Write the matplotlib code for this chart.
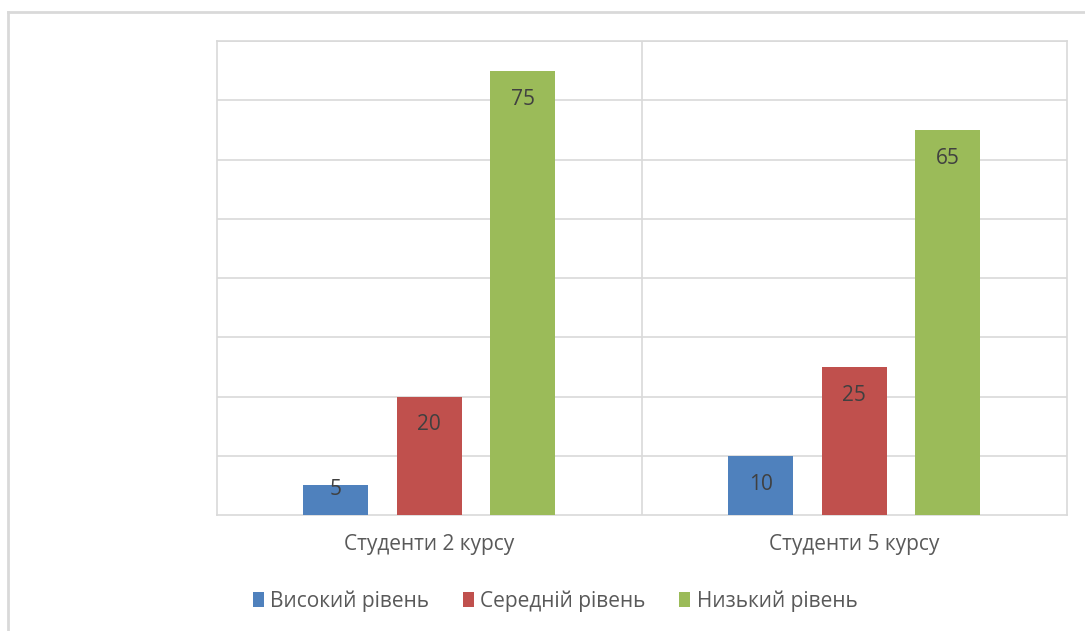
import matplotlib
matplotlib.use("Agg")
import matplotlib.pyplot as plt
from matplotlib.patches import Patch
from matplotlib.lines import Line2D
import numpy as np

plt.rcParams['font.family'] = ['Open Sans', 'DejaVu Sans']

categories = ["Студенти 2 курсу", "Студенти 5 курсу"]
series_names = ["Високий рівень", "Середній рівень", "Низький рівень"]
high = [5, 10]
medium = [20, 25]
low = [75, 65]
series_values = [high, medium, low]
colors = ["#4F81BD", "#C0504D", "#9BBB59"]

fig = plt.figure(figsize=(10.85, 6.31), dpi=100)
ax = fig.add_axes([0.1997, 0.1838, 0.7834, 0.7512])

x = np.arange(len(categories))
width = 0.153
spacing = 0.22
grid_c = "#D9D9D9"

for i, (vals, col) in enumerate(zip(series_values, colors)):
    xs = x + (i - 1) * spacing
    ax.bar(xs, vals, width=width, color=col, zorder=3)
    for xi, v in zip(xs, vals):
        yl = max(v - 4.8, 4.3)
        ax.text(xi, yl, str(v), ha="center", va="center",
                fontsize=15, color="#404040", zorder=4)

ax.set_xlim(-0.5, len(categories) - 0.5)
ax.set_ylim(0, 80)
ax.set_yticks(np.arange(10, 81, 10))
ax.yaxis.grid(True, color=grid_c, linewidth=1.2, zorder=0)
ax.tick_params(axis="y", left=False, labelleft=False)
ax.set_xticks(x)
ax.set_xticklabels(categories, fontsize=15, color="#595959")
ax.tick_params(axis="x", length=0, pad=14)
for xb in np.arange(0.5, len(categories) - 0.5, 1):
    ax.axvline(xb, color=grid_c, linewidth=1.2, zorder=0)
for s in ax.spines.values():
    s.set_color(grid_c)
    s.set_linewidth(1.2)

handles = [Patch(facecolor=c, edgecolor="none") for c in colors]
fig.legend(handles, series_names, loc="center", bbox_to_anchor=(0.5115, 0.0475),
           ncol=3, frameon=False, fontsize=15, labelcolor="#595959",
           handlelength=0.55, handleheight=0.7, handletextpad=0.3,
           columnspacing=1.6)

# outer frame
fig.add_artist(Line2D([8 / 1085, 1.0], [1 - 12 / 631] * 2, color=grid_c,
                      linewidth=2, transform=fig.transFigure))
fig.add_artist(Line2D([8 / 1085] * 2, [0.0, 1 - 12 / 631], color=grid_c,
                      linewidth=2, transform=fig.transFigure))

fig.savefig("out.png", dpi=100, facecolor="white")
